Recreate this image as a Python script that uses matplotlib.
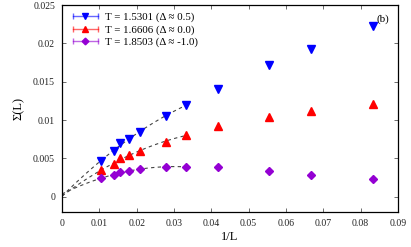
import numpy as np
import matplotlib
matplotlib.use("Agg")
import matplotlib.pyplot as plt
from matplotlib.lines import Line2D
from matplotlib.legend_handler import HandlerLine2D, HandlerTuple

plt.rcParams['font.family'] = ['Liberation Serif', 'DejaVu Serif']

# 1/L for L = 96, 72, 64, 56, 48, 36, 30, 24, 18, 15, 12
L = np.array([96, 72, 64, 56, 48, 36, 30, 24, 18, 15, 12])
inv_L = 1.0 / L

sigma_a = [0.00464, 0.00592, 0.00697, 0.00758, 0.00837, 0.01047, 0.0120, 0.01408, 0.01714, 0.01925, 0.0223]
sigma_b = [0.00346, 0.00420, 0.00500, 0.00543, 0.00596, 0.00718, 0.00803, 0.00916, 0.01039, 0.01113, 0.0121]
sigma_c = [0.00241, 0.00280, 0.00316, 0.00337, 0.00359, 0.00386, 0.00390, 0.00382, 0.00337, 0.00289, 0.00228]

labels = ["T = 1.5301 (Δ ≈ 0.5)", "T = 1.6606 (Δ ≈ 0.0)", "T = 1.8503 (Δ ≈ -1.0)"]
colors = ["#0000ff", "#ff0000", "#9400d3"]
markers = ["v", "^", "D"]
sizes = [5.5, 5.5, 4]
n_fit = 7  # fits use the largest sizes L >= 30

fig = plt.figure(figsize=(4.11, 2.47), dpi=100)
ax = fig.add_axes([62 / 411, 1 - 212 / 247, 336 / 411, 207 / 247])

handles = []
xf = np.linspace(0, inv_L[n_fit - 1], 100)
for ys, c, m, s in zip([sigma_a, sigma_b, sigma_c], colors, markers, sizes):
    ys = np.array(ys)
    p = np.polyfit(inv_L[:n_fit], ys[:n_fit], 2)
    ax.plot(xf, np.polyval(p, xf), ls=(0, (3, 3)), color="#444444", lw=0.8, zorder=1)
    ax.plot(inv_L, ys, ls="none", marker=m, color=c, ms=s, zorder=2)
    cap = Line2D([], [], color=c, lw=1, marker="|", ms=5, alpha=0.6)
    dot = Line2D([], [], ls="none", marker=m, color=c, ms=s * 0.85)
    handles.append((cap, dot))

hmap = {h[0]: HandlerLine2D(numpoints=2) for h in handles}
hmap[tuple] = HandlerTuple(ndivide=1)
leg = ax.legend(handles, labels, handler_map=hmap, loc="upper left",
                frameon=False, fontsize=7.8, handlelength=2.9, handletextpad=0.4,
                labelspacing=0.22, borderaxespad=0.3)

ax.set_xlim(0, 0.09)
ax.set_ylim(-0.002, 0.025)
ax.set_xticks(np.arange(0, 0.0901, 0.01))
ax.set_xticklabels(["0", "0.01", "0.02", "0.03", "0.04", "0.05", "0.06", "0.07", "0.08", "0.09"])
ax.set_yticks(np.arange(0, 0.02501, 0.005))
ax.set_yticklabels(["0", "0.005", "0.01", "0.015", "0.02", "0.025"])
ax.tick_params(direction="in", top=True, right=True, labelsize=7, length=3, width=0.6, pad=5,
               colors="#555555", labelcolor="#222222")
for sp in ax.spines.values():
    sp.set_linewidth(0.9)

ax.set_xlabel("1/L", fontsize=9, labelpad=2)
ax.set_ylabel("Σ(L)", fontsize=9, labelpad=6)
ax.text(0.975, 0.93, "(b)", transform=ax.transAxes, ha="right", va="center", fontsize=8)

fig.savefig("out.png", dpi=100)
